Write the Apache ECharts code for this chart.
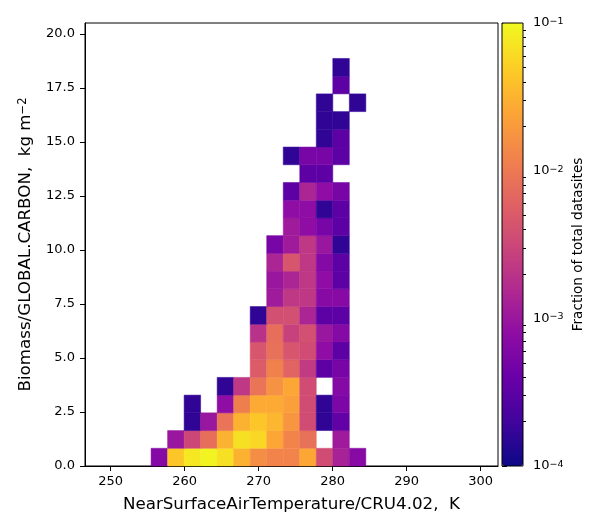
<!DOCTYPE html>
<html>
<head>
<meta charset="utf-8">
<script src="https://cdn.jsdelivr.net/npm/echarts@6/dist/echarts.min.js"></script>
<style>
html, body { margin: 0; padding: 0; background: #fff; }
#chart { width: 600px; height: 525px; }
</style>
</head>
<body>
<div id="chart"></div>
<script>
// bin extents: the 25x25 histogram covers the whole plot
var xMin = 246.54, xMax = 302.35;
var yMin = 0, yMax = 20.51;
var nBins = 25;

var xTicks = [250, 260, 270, 280, 290, 300];
var yTicks = [0, 2.5, 5, 7.5, 10, 12.5, 15, 17.5, 20];
var cbarExp = [-4, -3, -2, -1];

// first x bin of each y bin (row 0 = bottom)
var rowStart = [4, 5, 6, 6, 8, 10, 10, 10, 10, 11, 11, 11, 11, 12, 12, 12, 13, 12, 14, 14, 14, 15, 15];
// fraction of total datasites per cell, null = empty
var rowValues = [
    [6.5e-4, 4.4e-2, 7.6e-2, 9.3e-2, 6.6e-2, 3.1e-2, 1.55e-2, 1.26e-2, 1.26e-2, 2.5e-2, 3.6e-3, 1.3e-3, 6.9e-4],
    [9.8e-4, 3.2e-3, 7.8e-3, 3.1e-2, 6.6e-2, 5.8e-2, 2.5e-2, 1.26e-2, 8.3e-3, null, 1.1e-3],
    [1.6e-4, 9.8e-4, 8.9e-3, 3.1e-2, 4.4e-2, 3.3e-2, 1.78e-2, 3.6e-3, 1.6e-4, 3.5e-4],
    [1.6e-4, null, 7.9e-4, 1.1e-2, 2.7e-2, 2.7e-2, 2.2e-2, 3.6e-3, 1.6e-4, 5.6e-4],
    [1.6e-4, 2.2e-3, 8.9e-3, 1.66e-2, 2.5e-2, 3.6e-3, null, 6.5e-4],
    [5.1e-3, 1.17e-2, 6.3e-3, 2.4e-3, 3.2e-4, 5.2e-4],
    [4.5e-3, 8.3e-3, 4.5e-3, 3.6e-3, 7.9e-4, 3.2e-4],
    [1.9e-3, 7.8e-3, 2.8e-3, 3.9e-3, 9.8e-4, 6.5e-4],
    [1.6e-4, 3.9e-3, 3.9e-3, 1.4e-3, 3.2e-4, 3.2e-4],
    [1.1e-3, 2.2e-3, 2.2e-3, 6.9e-4, 6.9e-4],
    [9.8e-4, 1.4e-3, 2.2e-3, 7.9e-4, 3.2e-4],
    [1.4e-3, 4.5e-3, 2.2e-3, 6.5e-4, 3.2e-4],
    [5.2e-4, 1.1e-3, 2.2e-3, 9.8e-4, 1.6e-4],
    [1.1e-3, 7.9e-4, 5.2e-4, 3.2e-4],
    [7.9e-4, 7.9e-4, 1.6e-4, 3.2e-4],
    [3.2e-4, 1.4e-3, 7.9e-4, 5.2e-4],
    [3.2e-4, 3.2e-4],
    [1.6e-4, 5.2e-4, 5.2e-4, 3.2e-4],
    [1.6e-4, 3.2e-4],
    [1.6e-4, 1.6e-4],
    [1.6e-4, null, 1.6e-4],
    [3.2e-4],
    [1.6e-4]
];

var plasma = ['#0d0887', '#41049d', '#6a00a8', '#8f0da4', '#b12a90', '#cc4778',
              '#e16462', '#f2844b', '#fca636', '#fcce25', '#f0f921'];

var dx = (xMax - xMin) / nBins, dy = (yMax - yMin) / nBins;
var cells = [];
rowValues.forEach(function (vals, r) {
    vals.forEach(function (v, j) {
        if (v == null) return;
        var c = rowStart[r] + j;
        cells.push([xMin + c * dx, yMin + r * dy, xMin + (c + 1) * dx, yMin + (r + 1) * dy, Math.log10(v)]);
    });
});

// minor log ticks for the colorbar (2..9 x 10^n)
var minorTicks = [];
for (var e = -4; e < -1; e++) {
    for (var k = 2; k < 10; k++) minorTicks.push(e + Math.log10(k));
}

var font = 'DejaVu Sans';
var black = '#000';

var myChart = echarts.init(document.getElementById('chart'));
var option = {
    animation: false,
    textStyle: { fontFamily: font, color: black },
    grid: [
        { left: 85, top: 23, width: 413, height: 443, show: true, borderColor: black, borderWidth: 1 },
        { left: 502, top: 23, width: 21, height: 443, show: true, borderColor: black, borderWidth: 1, z: 10 }
    ],
    visualMap: {
        type: 'continuous',
        min: -4, max: -1,
        dimension: 4,
        seriesIndex: 0,
        calculable: false,
        hoverLink: false,
        orient: 'vertical',
        left: 502, top: 23,
        itemWidth: 21, itemHeight: 443,
        padding: 0,
        inRange: { color: plasma }
    },
    xAxis: [
        {
            type: 'value', min: xMin, max: xMax,
            axisLine: { onZero: false, lineStyle: { color: black, width: 1 } },
            axisTick: { customValues: xTicks, length: 5, lineStyle: { color: black } },
            axisLabel: { customValues: xTicks, color: black, fontSize: 13, margin: 9, fontFamily: font },
            splitLine: { show: false },
            name: 'NearSurfaceAirTemperature/CRU4.02,  K',
            nameLocation: 'middle', nameGap: 30,
            nameTextStyle: { fontSize: 16.7, color: black, fontFamily: font }
        },
        { gridIndex: 1, type: 'value', min: 0, max: 1, show: false }
    ],
    yAxis: [
        {
            type: 'value', min: yMin, max: yMax,
            axisLine: { onZero: false, lineStyle: { color: black, width: 1 } },
            axisTick: { customValues: yTicks, length: 5, lineStyle: { color: black } },
            axisLabel: {
                customValues: yTicks, color: black, fontSize: 13, margin: 10, fontFamily: font,
                formatter: function (v) { return v.toFixed(1); }
            },
            splitLine: { show: false },
            name: 'Biomass/GLOBAL.CARBON,  kg m{sup|\u22122}',
            nameLocation: 'middle', nameGap: 51,
            nameTextStyle: {
                fontSize: 16.7, color: black, fontFamily: font,
                rich: { sup: { fontSize: 11.5, verticalAlign: 'top', color: black, fontFamily: font } }
            }
        },
        {
            gridIndex: 1, type: 'value', min: -4, max: -1, interval: 1, position: 'right',
            axisLine: { show: false },
            axisTick: { length: 5, lineStyle: { color: black } },
            axisLabel: {
                color: black, fontSize: 13, margin: 10, fontFamily: font,
                formatter: function (v) { return '{b|10}{s|\u2212' + (-v) + '}'; },
                rich: {
                    b: { fontSize: 13, color: black, fontFamily: font },
                    s: { fontSize: 9.5, verticalAlign: 'top', color: black, fontFamily: font }
                }
            },
            splitLine: { show: false },
            name: 'Fraction of total datasites',
            nameLocation: 'middle', nameRotate: 90, nameGap: 48,
            nameTextStyle: { fontSize: 13.6, color: black, fontFamily: font }
        },
        {
            gridIndex: 1, type: 'value', min: -4, max: -1, position: 'right',
            axisLine: { show: false },
            axisTick: { customValues: minorTicks, length: 3, lineStyle: { color: black } },
            axisLabel: { show: false },
            splitLine: { show: false }
        }
    ],
    series: [{
        type: 'custom',
        xAxisIndex: 0, yAxisIndex: 0,
        encode: { x: [0, 2], y: [1, 3] },
        renderItem: function (params, api) {
            var p0 = api.coord([api.value(0), api.value(1)]);
            var p1 = api.coord([api.value(2), api.value(3)]);
            var color = api.visual('color');
            return {
                type: 'rect',
                shape: { x: p0[0], y: p1[1], width: p1[0] - p0[0], height: p0[1] - p1[1] },
                style: { fill: color, stroke: color, lineWidth: 0.5 }
            };
        },
        data: cells
    }]
};
myChart.setOption(option);
</script>
</body>
</html>
